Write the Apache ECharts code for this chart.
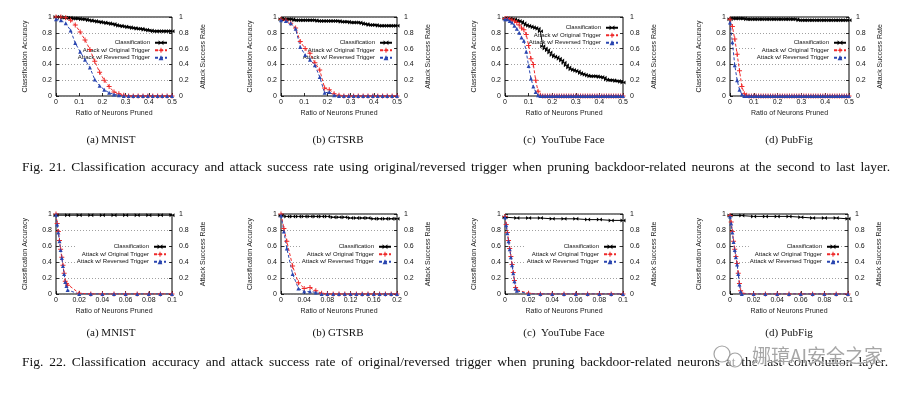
<!DOCTYPE html>
<html><head><meta charset="utf-8">
<script src="https://cdn.jsdelivr.net/npm/echarts@6/dist/echarts.min.js"></script>
<style>html,body{margin:0;padding:0;background:#fff}#c{width:914px;height:396px}</style>
</head><body><div id="c"></div>
<script>
// ---------- DATA ----------
const topClsX = [0,0.01,0.02,0.03,0.04,0.05,0.06,0.07,0.08,0.09,0.1,0.11,0.12,0.13,0.14,0.15,0.16,0.17,0.18,0.19,0.2,0.21,0.22,0.23,0.24,0.25,0.26,0.27,0.28,0.29,0.3,0.31,0.32,0.33,0.34,0.35,0.36,0.37,0.38,0.39,0.4,0.41,0.42,0.43,0.44,0.45,0.46,0.47,0.48,0.49,0.5];
const topAtkX = [0,0.021,0.042,0.063,0.083,0.104,0.125,0.146,0.167,0.188,0.208,0.229,0.25,0.271,0.292,0.313,0.333,0.354,0.375,0.396,0.417,0.438,0.458,0.479,0.5];
const botX = [0,0.01,0.02,0.03,0.04,0.05,0.06,0.07,0.08,0.09,0.1];
const botXb = [0,0.01,0.02,0.03,0.04,0.05,0.06,0.07,0.08,0.09,0.1,0.11,0.12,0.13,0.14,0.15,0.16,0.17,0.18,0.19,0.2];
const botAtkX = [0,0.001,0.002,0.003,0.004,0.005,0.006,0.007,0.008,0.009,0.01,0.02,0.03,0.04,0.05,0.06,0.07,0.08,0.09,0.1];
const botAtkXb = [0,0.005,0.01,0.02,0.03,0.04,0.05,0.06,0.07,0.08,0.09,0.1,0.11,0.12,0.13,0.14,0.15,0.16,0.17,0.18,0.19,0.2];

const subCaptions = ['(a) MNIST','(b) GTSRB','(c)  YouTube Face','(d) PubFig'];
const seriesNames = ['Classification','Attack w/ Original Trigger','Attack w/ Reversed Trigger'];
const xName = 'Ratio of Neurons Pruned';
const yLeftName = 'Classification Accuracy';
const yRightName = 'Attack Success Rate';
const fig21 = 'Fig. 21.  Classification accuracy and attack success rate using original/reversed trigger when pruning backdoor-related neurons at the second to last layer.';
const fig22 = 'Fig. 22.  Classification accuracy and attack success rate of original/reversed trigger when pruning backdoor-related neurons at the last convolution layer.';
const watermark = '娜璋AI安全之家';

// Fig. 21 (top row)
const mnistTopCls = [1.0,1.0,1.0,0.99,0.99,0.99,0.99,0.98,0.98,0.98,0.98,0.97,0.97,0.97,0.96,0.96,0.95,0.95,0.94,0.94,0.93,0.93,0.92,0.92,0.91,0.91,0.90,0.89,0.89,0.88,0.88,0.87,0.87,0.86,0.86,0.85,0.85,0.85,0.84,0.84,0.83,0.83,0.82,0.82,0.82,0.82,0.82,0.82,0.82,0.82,0.82];
const mnistTopOrig = [1.0,1.0,0.99,0.96,0.90,0.81,0.71,0.59,0.44,0.30,0.20,0.12,0.05,0.03,0.01,0,0,0,0,0,0,0,0,0,0];
const mnistTopRev = [0.97,0.96,0.92,0.83,0.67,0.56,0.46,0.36,0.21,0.13,0.08,0.04,0.02,0.01,0,0,0,0,0,0,0,0,0,0,0];

const gtsrbTopCls = [0.97,0.97,0.97,0.97,0.97,0.97,0.96,0.96,0.96,0.96,0.96,0.96,0.96,0.96,0.96,0.96,0.95,0.95,0.95,0.95,0.95,0.95,0.95,0.95,0.95,0.95,0.94,0.94,0.94,0.94,0.93,0.93,0.93,0.93,0.93,0.92,0.91,0.91,0.90,0.90,0.90,0.90,0.89,0.89,0.89,0.89,0.89,0.89,0.89,0.89,0.89];
const gtsrbTopOrig = [0.97,0.96,0.92,0.86,0.69,0.60,0.54,0.42,0.33,0.10,0.08,0.03,0.01,0,0,0,0,0,0,0,0,0,0,0,0];
const gtsrbTopRev = [0.96,0.95,0.92,0.85,0.62,0.52,0.46,0.39,0.24,0.04,0.05,0.01,0,0,0,0,0,0,0,0,0,0,0,0,0];

const ytfTopCls = [0.98,0.98,0.98,0.97,0.97,0.96,0.95,0.94,0.92,0.90,0.89,0.88,0.87,0.86,0.85,0.82,0.63,0.60,0.58,0.55,0.52,0.50,0.49,0.47,0.45,0.42,0.39,0.36,0.34,0.33,0.32,0.31,0.29,0.28,0.27,0.26,0.25,0.25,0.25,0.25,0.24,0.24,0.23,0.21,0.20,0.20,0.20,0.19,0.19,0.18,0.17];
const ytfTopOrig = [0.98,0.98,0.97,0.96,0.95,0.93,0.90,0.86,0.84,0.78,0.64,0.47,0.40,0.20,0.06,0.01,0,0,0,0,0,0,0,0,0,0,0,0,0,0,0,0,0,0,0,0,0,0,0,0,0,0,0,0,0,0,0,0,0,0,0];
const ytfTopRev = [0.97,0.97,0.95,0.93,0.89,0.85,0.80,0.74,0.70,0.56,0.38,0.22,0.12,0.05,0.01,0,0,0,0,0,0,0,0,0,0,0,0,0,0,0,0,0,0,0,0,0,0,0,0,0,0,0,0,0,0,0,0,0,0,0,0];

const pubfigTopCls = [0.97,0.98,0.98,0.98,0.98,0.98,0.98,0.97,0.97,0.97,0.97,0.97,0.97,0.97,0.97,0.97,0.97,0.97,0.97,0.97,0.97,0.97,0.97,0.97,0.97,0.97,0.97,0.97,0.97,0.96,0.96,0.96,0.96,0.96,0.96,0.96,0.96,0.96,0.96,0.96,0.96,0.96,0.96,0.96,0.96,0.96,0.96,0.96,0.96,0.96,0.96];
const pubfigTopOrig = [0.97,0.88,0.72,0.53,0.32,0.12,0.03,0.01,0,0,0,0,0,0,0,0,0,0,0,0,0,0,0,0,0,0,0,0,0,0,0,0,0,0,0,0,0,0,0,0,0,0,0,0,0,0,0,0,0,0,0];
const pubfigTopRev = [0.93,0.68,0.39,0.20,0.08,0.02,0,0,0,0,0,0,0,0,0,0,0,0,0,0,0,0,0,0,0,0,0,0,0,0,0,0,0,0,0,0,0,0,0,0,0,0,0,0,0,0,0,0,0,0,0];

// Fig. 22 (bottom row)
const mnistBotCls = [0.985,0.985,0.985,0.985,0.985,0.985,0.985,0.985,0.985,0.985,0.985];
const mnistBotOrig = [1.0,0.88,0.78,0.67,0.56,0.46,0.36,0.26,0.16,0.13,0.11,0.01,0,0,0,0,0,0,0,0];
const mnistBotRev = [0.99,0.87,0.77,0.66,0.55,0.45,0.35,0.25,0.15,0.10,0.05,0,0,0,0,0,0,0,0,0];

const gtsrbBotCls = [0.98,0.97,0.97,0.97,0.97,0.97,0.97,0.97,0.97,0.96,0.96,0.96,0.95,0.95,0.95,0.95,0.94,0.94,0.94,0.94,0.94];
const gtsrbBotOrig = [1.0,0.82,0.66,0.35,0.14,0.07,0.08,0.04,0.01,0,0,0,0,0,0,0,0,0,0,0,0,0];
const gtsrbBotRev = [0.98,0.78,0.57,0.25,0.07,0.03,0.03,0.02,0,0,0,0,0,0,0,0,0,0,0,0,0,0];

const ytfBotCls = [0.96,0.95,0.95,0.95,0.94,0.94,0.94,0.93,0.93,0.92,0.92];
const ytfBotOrig = [0.97,0.87,0.77,0.67,0.57,0.47,0.37,0.27,0.17,0.08,0.05,0.01,0,0,0,0,0,0,0,0];
const ytfBotRev = [0.96,0.86,0.76,0.66,0.56,0.46,0.36,0.26,0.16,0.07,0.04,0,0,0,0,0,0,0,0,0];

const pubfigBotCls = [0.98,0.98,0.97,0.97,0.97,0.97,0.96,0.95,0.95,0.95,0.94];
const pubfigBotOrig = [0.98,0.90,0.78,0.66,0.56,0.47,0.38,0.26,0.13,0.04,0.01,0,0,0,0,0,0,0,0,0];
const pubfigBotRev = [0.97,0.88,0.77,0.65,0.55,0.46,0.37,0.25,0.12,0.03,0,0,0,0,0,0,0,0,0,0];

// ---------- LAYOUT ----------
const panels = [
  {g:{left:56,top:17,width:116,height:79}, xmax:0.5, xint:0.1, cx:topClsX, c:mnistTopCls, ax:topAtkX, o:mnistTopOrig, r:mnistTopRev, lg:{right:745,top:38}},
  {g:{left:281,top:17,width:116,height:79}, xmax:0.5, xint:0.1, cx:topClsX, c:gtsrbTopCls, ax:topAtkX, o:gtsrbTopOrig, r:gtsrbTopRev, lg:{right:520,top:38}},
  {g:{left:505,top:17,width:118,height:79}, xmax:0.5, xint:0.1, cx:topClsX, c:ytfTopCls, ax:topClsX, o:ytfTopOrig, r:ytfTopRev, lg:{right:294,top:23}},
  {g:{left:730,top:17,width:119,height:79}, xmax:0.5, xint:0.1, cx:topClsX, c:pubfigTopCls, ax:topClsX, o:pubfigTopOrig, r:pubfigTopRev, lg:{right:66,top:38}},
  {g:{left:56,top:214,width:116,height:80}, xmax:0.1, xint:0.02, cx:botX, c:mnistBotCls, ax:botAtkX, o:mnistBotOrig, r:mnistBotRev, lg:{right:746,top:242}},
  {g:{left:281,top:214,width:116,height:80}, xmax:0.2, xint:0.04, cx:botXb, c:gtsrbBotCls, ax:botAtkXb, o:gtsrbBotOrig, r:gtsrbBotRev, lg:{right:521,top:242}},
  {g:{left:505,top:214,width:118,height:80}, xmax:0.1, xint:0.02, cx:botX, c:ytfBotCls, ax:botAtkX, o:ytfBotOrig, r:ytfBotRev, lg:{right:296,top:242}},
  {g:{left:730,top:214,width:118,height:80}, xmax:0.1, xint:0.02, cx:botX, c:pubfigBotCls, ax:botAtkX, o:pubfigBotOrig, r:pubfigBotRev, lg:{right:73,top:242}}
];

const SANS = 'Liberation Sans';
const SERIF = 'Liberation Serif';
const PLUS = 'path://M4,0H6V4H10V6H6V10H4V6H0V4H4Z';
const BOWTIE = 'path://M0,0L10,10L10,0L0,10Z';
const RED = '#ee2a2a', BLUE = '#2a46b0';

const grid = [], xAxis = [], yAxis = [], series = [], legend = [];
panels.forEach((p, i) => {
  grid.push(Object.assign({show:true, borderColor:'#000', borderWidth:1, backgroundColor:'transparent'}, p.g));
  xAxis.push({type:'value', gridIndex:i, min:0, max:p.xmax, interval:p.xint,
    name:xName, nameLocation:'middle', nameGap:14,
    nameTextStyle:{fontFamily:SANS, fontSize:7, color:'#222'},
    axisLine:{show:false}, axisTick:{inside:true, length:3, lineStyle:{color:'#000', width:0.8}},
    axisLabel:{fontFamily:SANS, fontSize:7, color:'#111', margin:3},
    splitLine:{show:false}});
  yAxis.push({type:'value', gridIndex:i, position:'left', min:0, max:1, interval:0.2,
    name:yLeftName, nameLocation:'middle', nameGap:27, nameRotate:90,
    nameTextStyle:{fontFamily:SANS, fontSize:7, color:'#222'},
    axisLine:{show:false}, axisTick:{inside:true, length:3, lineStyle:{color:'#000', width:0.8}},
    axisLabel:{fontFamily:SANS, fontSize:7, color:'#111', margin:4},
    splitLine:{show:true, lineStyle:{color:'#888', type:[1,2], width:0.8}}});
  yAxis.push({type:'value', gridIndex:i, position:'right', min:0, max:1, interval:0.2,
    name:yRightName, nameLocation:'middle', nameGap:28, nameRotate:90,
    nameTextStyle:{fontFamily:SANS, fontSize:7, color:'#222'},
    axisLine:{show:false}, axisTick:{inside:true, length:3, lineStyle:{color:'#000', width:0.8}},
    axisLabel:{fontFamily:SANS, fontSize:7, color:'#111', margin:7},
    splitLine:{show:false}});
  const base = {type:'line', xAxisIndex:i, yAxisIndex:2*i, animation:false, z:3};
  series.push(Object.assign({}, base, {name:seriesNames[0], data:p.cx.map((x,k)=>[x,p.c[k]]),
    symbol:BOWTIE, symbolSize:[5,4], showAllSymbol:true,
    lineStyle:{color:'#000', width:1}, itemStyle:{color:'#000'}}));
  series.push(Object.assign({}, base, {name:seriesNames[1], data:p.ax.map((x,k)=>[x,p.o[k]]),
    symbol:PLUS, symbolSize:5, showAllSymbol:true,
    lineStyle:{color:RED, width:1, type:[3,2]}, itemStyle:{color:RED}}));
  series.push(Object.assign({}, base, {name:seriesNames[2], data:p.ax.map((x,k)=>[x,p.r[k]]),
    symbol:'triangle', symbolSize:4, showAllSymbol:true,
    lineStyle:{color:BLUE, width:1, type:[3,2]}, itemStyle:{color:BLUE}}));
  legend.push({orient:'vertical', align:'right', right:p.lg.right, top:p.lg.top, z:1,
    backgroundColor:'#fff', padding:[1,1,1,1], itemGap:0, itemWidth:12, itemHeight:6,
    selectedMode:false, data:seriesNames,
    textStyle:{fontFamily:SANS, fontSize:6, color:'#111', lineHeight:7.5}});
});

const subCx = [111, 338, 564, 789];
const graphic = [];
[140, 333].forEach(y => subCaptions.forEach((t, j) => graphic.push({type:'text', x:subCx[j], y:y,
  style:{text:t, fill:'#111', font:'11px "' + SERIF + '"', textAlign:'center', textVerticalAlign:'middle'}})));

// justified captions (words spread across the text block width)
const capFont = '13.5px "' + SERIF + '"';
const mctx = document.createElement('canvas').getContext('2d');
mctx.font = capFont;
function justify(text, x0, x1, y) {
  const words = text.split(/\s+/);
  const widths = words.map(w => mctx.measureText(w).width);
  const total = widths.reduce((a, b) => a + b, 0);
  const gap = (x1 - x0 - total) / (words.length - 1);
  let x = x0;
  words.forEach((w, k) => {
    graphic.push({type:'text', x:x, y:y, style:{text:w, fill:'#111', font:capFont, textVerticalAlign:'middle'}});
    x += widths[k] + gap;
  });
}
justify(fig21, 22, 890, 167);
justify(fig22, 22, 888, 362);

// watermark
graphic.push({type:'circle', shape:{cx:722, cy:354, r:8}, style:{fill:'none', stroke:'rgba(140,140,140,0.8)', lineWidth:1.2}});
graphic.push({type:'circle', shape:{cx:735, cy:360, r:7}, style:{fill:'rgba(255,255,255,0.6)', stroke:'rgba(140,140,140,0.8)', lineWidth:1.2}});
graphic.push({type:'text', x:752, y:356, style:{text:watermark, fill:'rgba(150,150,150,0.85)', stroke:'rgba(255,255,255,0.7)', lineWidth:1, font:'19px "Noto Sans CJK SC"', textVerticalAlign:'middle'}});

const chart = echarts.init(document.getElementById('c'), null, {renderer:'canvas'});
chart.setOption({animation:false, backgroundColor:'#fff', grid, xAxis, yAxis, series, legend, graphic});
</script></body></html>
